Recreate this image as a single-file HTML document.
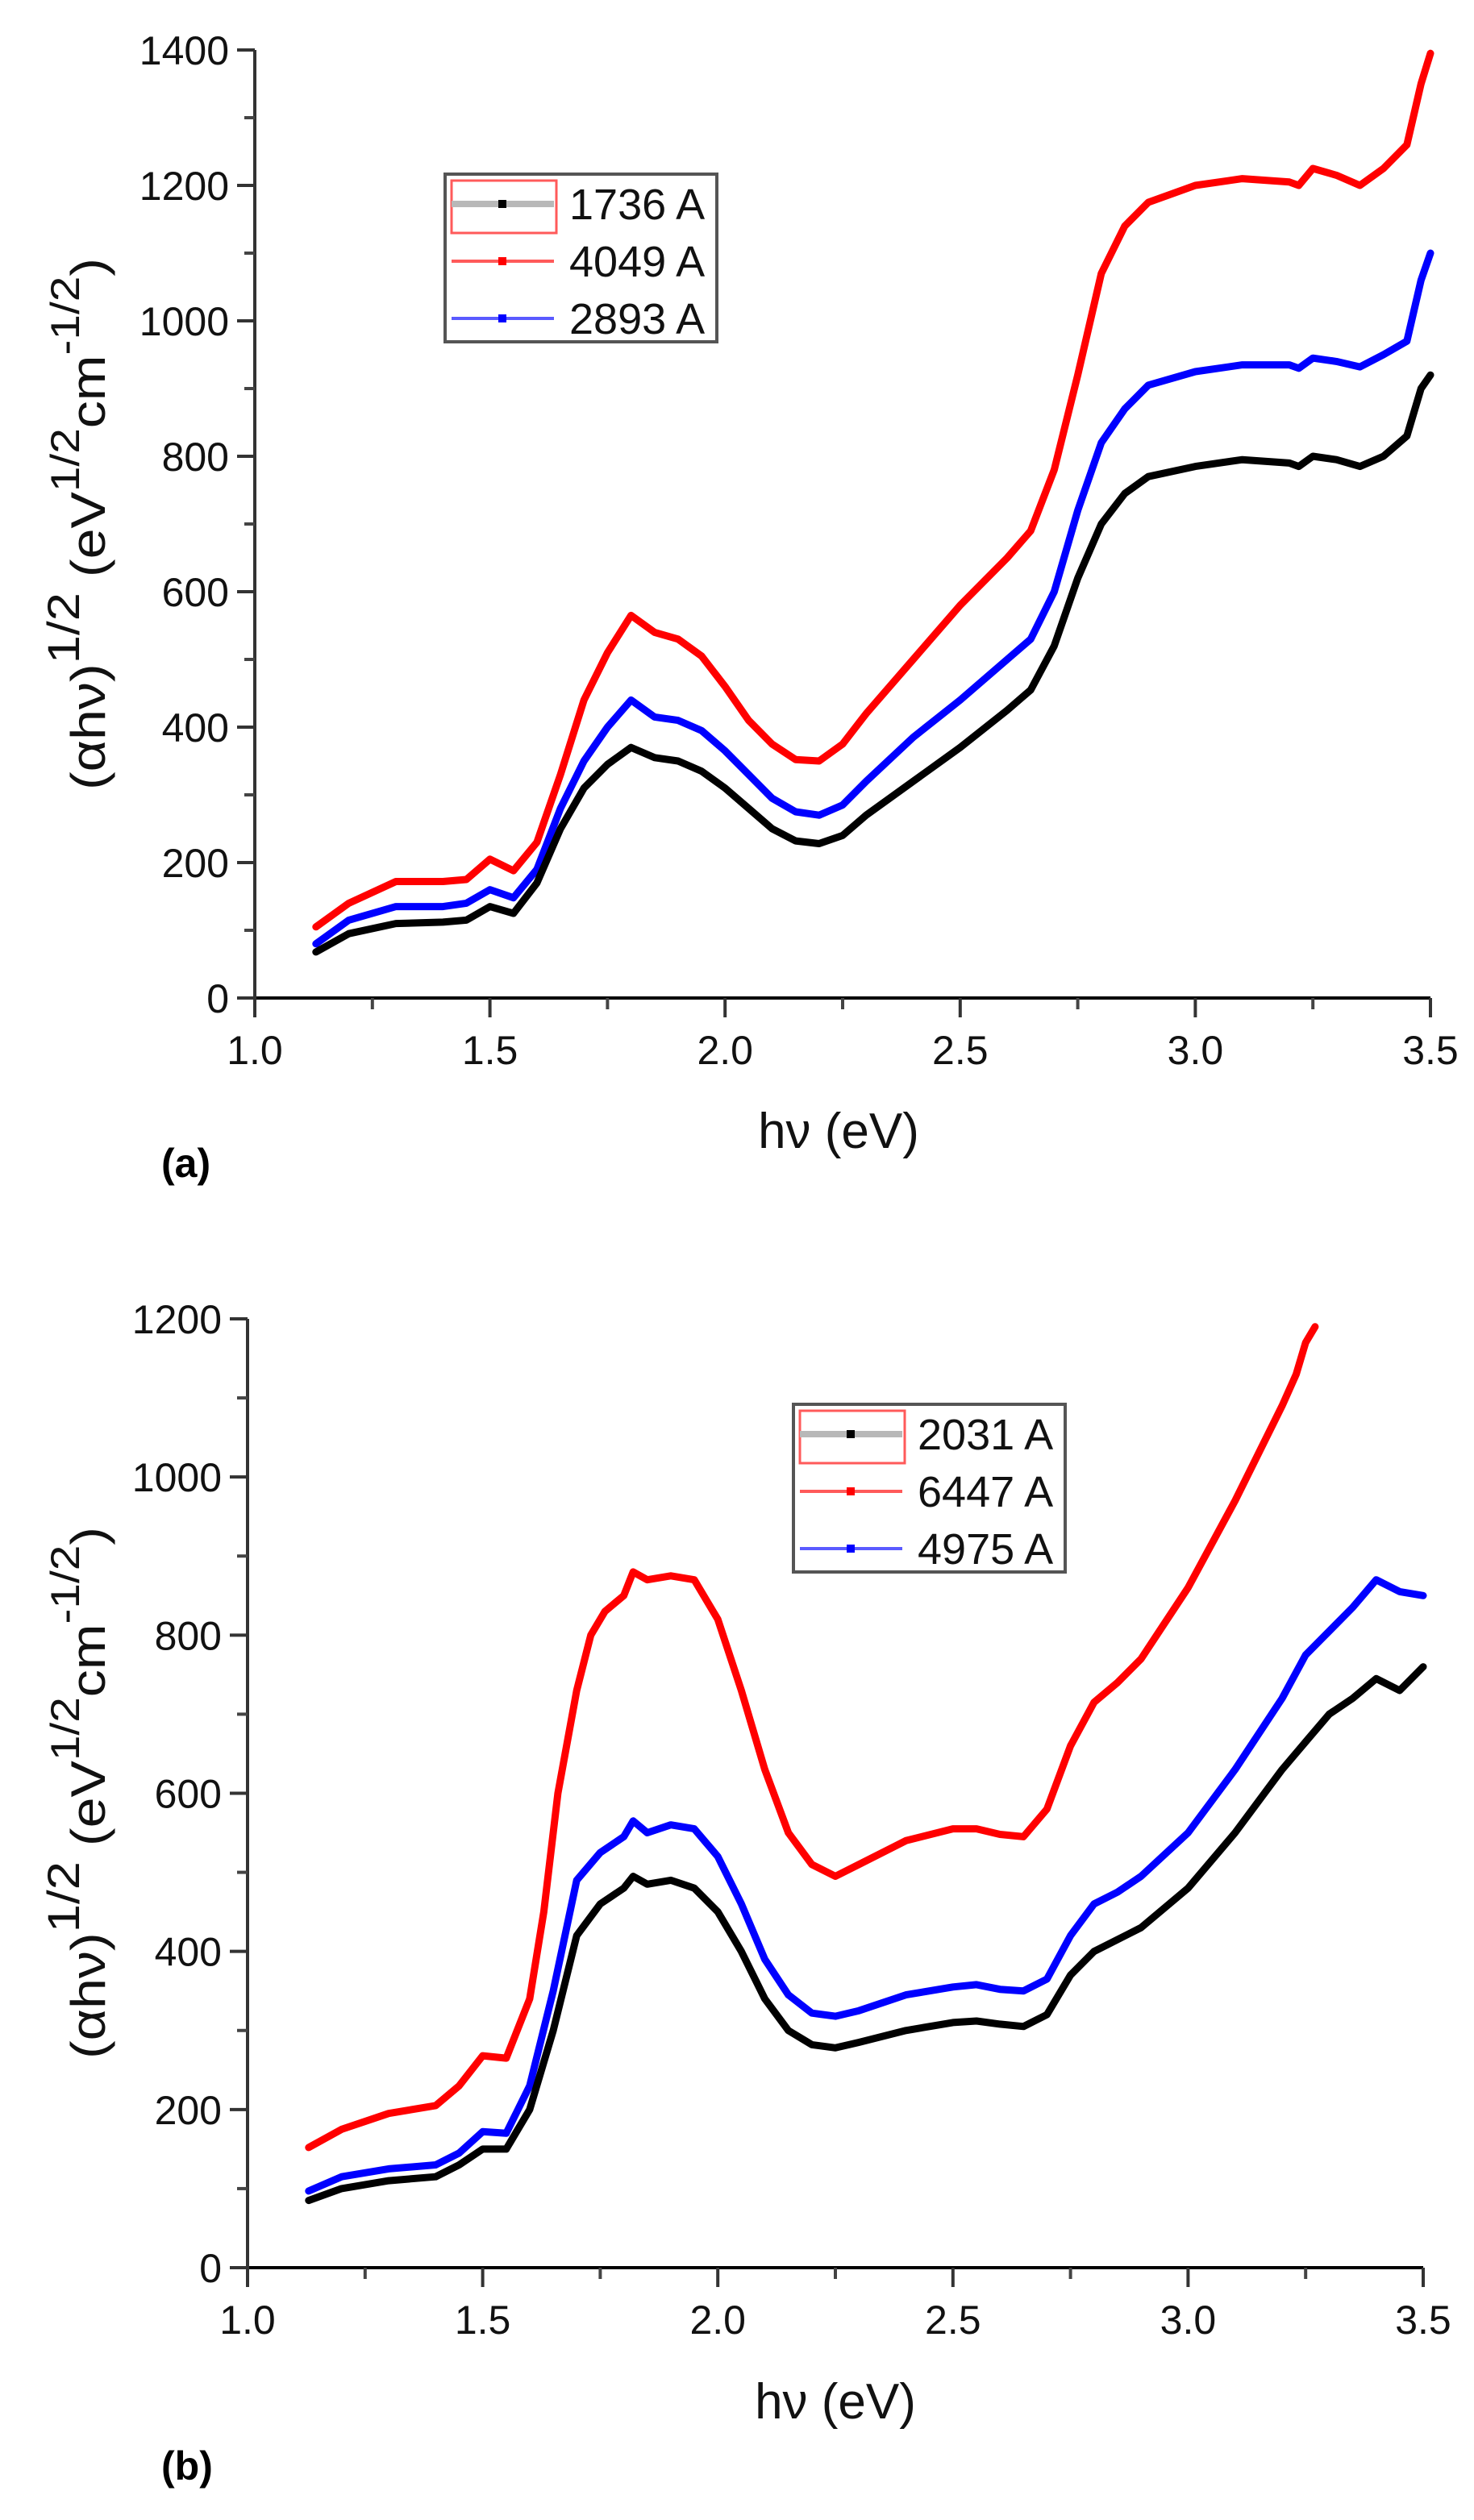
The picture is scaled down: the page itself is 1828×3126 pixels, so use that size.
<!DOCTYPE html>
<html><head><meta charset="utf-8">
<style>
html,body{margin:0;padding:0;background:#fff;}
svg{display:block;font-family:"Liberation Sans",Arial,sans-serif;}
</style></head>
<body>
<svg id="fig" width="1828" height="3126" viewBox="0 0 1828 3126" xmlns="http://www.w3.org/2000/svg">
<rect x="0" y="0" width="1828" height="3126" fill="#fff"/>
</svg>
<script>
// ---------- Panel (a) data ----------
const aX = [1.13,1.2,1.3,1.4,1.45,1.5,1.55,1.6,1.65,1.7,1.75,1.8,1.85,1.9,1.95,2.0,2.05,2.1,2.15,2.2,2.25,2.3,2.4,2.5,2.6,2.65,2.7,2.75,2.8,2.85,2.9,3.0,3.1,3.2,3.22,3.25,3.3,3.35,3.4,3.45,3.48,3.5];
const aBlack = [68,95,110,112,115,135,125,170,250,310,345,370,355,350,335,310,280,250,232,228,240,270,320,370,425,455,520,620,700,745,770,785,795,790,785,800,795,785,800,830,900,920];
const aRed = [105,140,172,172,175,205,188,230,330,440,510,565,540,530,505,460,410,375,352,350,375,420,500,580,650,690,780,920,1070,1140,1175,1200,1210,1205,1200,1225,1215,1200,1225,1260,1350,1395];
const aBlue = [80,115,135,135,140,160,148,190,280,350,400,440,415,410,395,365,330,295,275,270,285,320,385,440,500,530,600,720,820,870,905,925,935,935,930,945,940,932,950,970,1060,1100];
const aYTicks = [0,200,400,600,800,1000,1200,1400];
const aLegend = ["1736 A","4049 A","2893 A"];

// ---------- Panel (b) data ----------
const bX = [1.13,1.2,1.3,1.4,1.45,1.5,1.55,1.6,1.65,1.7,1.75,1.8,1.82,1.85,1.9,1.95,2.0,2.05,2.1,2.15,2.2,2.25,2.3,2.4,2.5,2.55,2.6,2.65,2.7,2.75,2.8,2.85,2.9,3.0,3.1,3.2,3.25,3.3,3.35,3.4,3.45,3.5];
const bBlack = [85,100,110,115,130,150,150,200,300,420,460,480,495,485,490,480,450,400,340,300,282,278,285,300,310,312,308,305,320,370,400,415,430,480,550,630,665,700,720,745,730,760];
const bBlue = [97,115,125,130,145,172,170,230,350,490,525,545,565,550,560,555,520,460,390,345,322,318,325,345,355,358,352,350,365,420,460,475,495,550,630,720,775,805,835,870,855,850];
const bRedX = [1.13,1.2,1.3,1.4,1.45,1.5,1.55,1.6,1.63,1.66,1.7,1.73,1.76,1.8,1.82,1.85,1.9,1.95,2.0,2.05,2.1,2.15,2.2,2.25,2.3,2.4,2.5,2.55,2.6,2.65,2.7,2.75,2.8,2.85,2.9,3.0,3.1,3.2,3.23,3.25,3.27];
const bRed = [152,175,195,205,230,268,265,340,450,600,730,800,830,850,880,870,875,870,820,730,630,550,510,495,510,540,555,555,548,545,580,660,715,740,770,860,970,1090,1130,1170,1190];
const bYTicks = [0,200,400,600,800,1000,1200];
const bLegend = ["2031 A","6447 A","4975 A"];

const xTicks = [1.0,1.5,2.0,2.5,3.0,3.5];
const NS = "http://www.w3.org/2000/svg";
const svg = document.getElementById("fig");

function mk(tag, attrs, parent){
  const e = document.createElementNS(NS, tag);
  for (const k in attrs) e.setAttribute(k, attrs[k]);
  (parent||svg).appendChild(e);
  return e;
}

function panel(cfg){
  const g = mk("g", {});
  
  
  const sx = v => cfg.x0 + (v-1.0)/(3.5-1.0)*(cfg.x1-cfg.x0);
  const sy = v => cfg.y0 - v/cfg.ymax*(cfg.y0-cfg.y1);
  const ax = mk("line",{x1:cfg.x0-12,y1:cfg.y0,x2:cfg.x1,y2:cfg.y0,stroke:"#000","stroke-width":4},g);
  
  
  const ay = mk("line",{x1:cfg.x0,y1:cfg.y1,x2:cfg.x0,y2:cfg.y0+24,stroke:"#333","stroke-width":4},g);
  
  
  xTicks.forEach(t=>{
    const x = sx(t);
    mk("line",{x1:x,y1:cfg.y0,x2:x,y2:cfg.y0+24,stroke:"#333","stroke-width":4},g);
    const tl = mk("text",{x:x,y:cfg.y0+82,"font-size":50,"text-anchor":"middle",fill:"#111"},g);
    tl.textContent = t.toFixed(1);
    
    
    if (t<3.5){
      const xm = sx(t+0.25);
      mk("line",{x1:xm,y1:cfg.y0,x2:xm,y2:cfg.y0+14,stroke:"#444","stroke-width":4},g);
    }
  });
  cfg.yticks.forEach((t,i)=>{
    const y = sy(t);
    mk("line",{x1:cfg.x0-22,y1:y,x2:cfg.x0,y2:y,stroke:"#333","stroke-width":4},g);
    const tl = mk("text",{x:cfg.x0-32,y:y+18,"font-size":50,"text-anchor":"end",fill:"#111"},g);
    tl.textContent = String(t);
    
    
    if (i<cfg.yticks.length-1){
      const ym = sy(t+(cfg.yticks[1]-cfg.yticks[0])/2);
      mk("line",{x1:cfg.x0-13,y1:ym,x2:cfg.x0,y2:ym,stroke:"#444","stroke-width":4},g);
    }
  });
  cfg.series.forEach(s=>{
    const pts = s.xs.map((v,i)=>sx(v).toFixed(1)+","+sy(s.ys[i]).toFixed(1)).join(" ");
    const pl = mk("polyline",{points:pts,fill:"none",stroke:s.color,"stroke-width":9,"stroke-linejoin":"round","stroke-linecap":"round"},g);
    
    
  });
  const xt = mk("text",{x:cfg.xtX,y:cfg.xtY,"font-size":62,"text-anchor":"middle",fill:"#111"},g);
  xt.textContent = "hν (eV)";
  
  
  const yt = mk("text",{transform:"translate(130,"+cfg.ytC+") rotate(-90)","font-size":60,"text-anchor":"middle",fill:"#111",textLength:660,lengthAdjust:"spacingAndGlyphs"},g);
  
  
  yt.innerHTML = '(αhν)<tspan dy="-32" font-size="56">1/2</tspan><tspan dy="32"> (eV</tspan><tspan dy="-32" font-size="50">1/2</tspan><tspan dy="32">cm</tspan><tspan dy="-32" font-size="50">-1/2</tspan><tspan dy="32">)</tspan>';
  const pl = mk("text",{x:200,y:cfg.labY,"font-size":50,"font-weight":"bold",fill:"#000"},g);
  pl.textContent = cfg.label;
  
  
  const lg = mk("g",{},g);
  
  
  mk("rect",{x:cfg.lx,y:cfg.ly,width:337,height:208,fill:"#fff",stroke:"#555","stroke-width":4},lg);
  mk("rect",{x:cfg.lx+8,y:cfg.ly+8,width:130,height:65,fill:"none",stroke:"#ff5a5a","stroke-width":3},lg);
  const lc = ["#000","#ff0000","#0000ff"];
  const lw = [8,4,4];
  const lineCol = ["#b8b8b8","#ff5a5a","#5a5aff"];
  cfg.legend.forEach((t,i)=>{
    const y = cfg.ly+37+i*71;
    const e = mk("g",{},lg);
    
    
    mk("line",{x1:cfg.lx+8,y1:y,x2:cfg.lx+135,y2:y,stroke:lineCol[i],"stroke-width":lw[i]},e);
    mk("rect",{x:cfg.lx+66,y:y-5,width:10,height:10,fill:lc[i]},e);
    const tx = mk("text",{x:cfg.lx+154,y:y+19,"font-size":54,fill:"#111"},e);
    tx.textContent = t;
  });
}

panel({name:"panel-a",x0:316,x1:1774,y0:1238,y1:62,ymax:1400,yticks:aYTicks,
  series:[{name:"series-4049",xs:aX,ys:aRed,color:"#ff0000"},{name:"series-2893",xs:aX,ys:aBlue,color:"#0000ff"},{name:"series-1736",xs:aX,ys:aBlack,color:"#000"}],
  xtX:1040,xtY:1424,ytC:650,labY:1460,label:"(a)",legend:aLegend,lx:552,ly:216});
panel({name:"panel-b",x0:307,x1:1765,y0:2813,y1:1636,ymax:1200,yticks:bYTicks,
  series:[{name:"series-6447",xs:bRedX,ys:bRed,color:"#ff0000"},{name:"series-4975",xs:bX,ys:bBlue,color:"#0000ff"},{name:"series-2031",xs:bX,ys:bBlack,color:"#000"}],
  xtX:1036,xtY:3000,ytC:2224,labY:3076,label:"(b)",legend:bLegend,lx:984,ly:1742});
</script>
</body></html>
